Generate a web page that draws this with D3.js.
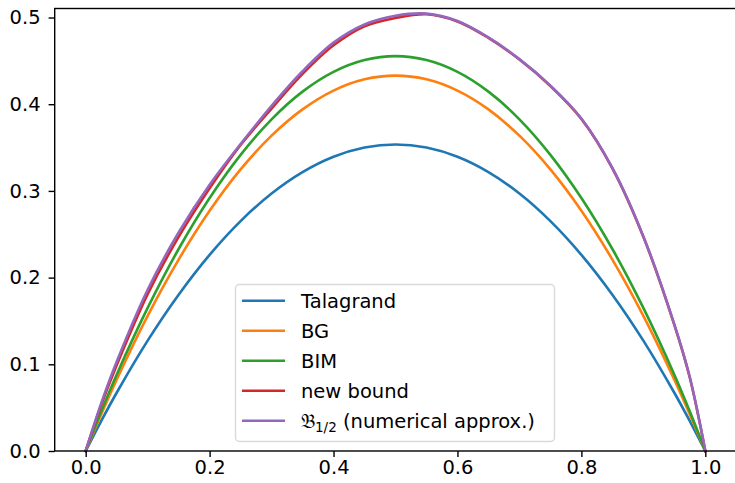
<!DOCTYPE html>
<html>
<head>
<meta charset="utf-8">
<script src="https://cdn.jsdelivr.net/npm/d3@7"></script>
<style>
  html, body { margin: 0; padding: 0; background: #fff; }
  svg { display: block; font-family: "DejaVu Sans", sans-serif; }
</style>
</head>
<body>
<svg id="chart" width="735" height="483"></svg>
<script>
// Sample positions on [0, 1]
const xs = [0, 0.025, 0.05, 0.1, 0.15, 0.2, 0.25, 0.3, 0.35, 0.4, 0.45, 0.5,
            0.55, 0.6, 0.65, 0.7, 0.75, 0.8, 0.85, 0.9, 0.95, 0.975, 1];

// Bound values at each sample position
const talagrand = [0, 0.0345, 0.0672, 0.1273, 0.1803, 0.2263, 0.2652, 0.2970, 0.3217, 0.3394, 0.3500, 0.3536,
                   0.3500, 0.3394, 0.3217, 0.2970, 0.2652, 0.2263, 0.1803, 0.1273, 0.0672, 0.0345, 0];
const bg        = [0, 0.0422, 0.0823, 0.1559, 0.2208, 0.2771, 0.3248, 0.3637, 0.3940, 0.4157, 0.4287, 0.4330,
                   0.4287, 0.4157, 0.3940, 0.3637, 0.3248, 0.2771, 0.2208, 0.1559, 0.0823, 0.0422, 0];
const bim       = [0, 0.0455, 0.0880, 0.1650, 0.2330, 0.2918, 0.3416, 0.3826, 0.4145, 0.4373, 0.4509, 0.4555,
                   0.4509, 0.4373, 0.4145, 0.3826, 0.3416, 0.2918, 0.2330, 0.1650, 0.0880, 0.0455, 0];
const newBound  = [0, 0.053, 0.099, 0.181, 0.247, 0.303, 0.353, 0.395, 0.435, 0.468, 0.490, 0.4995,
                   0.5038, 0.4955, 0.4765, 0.4515, 0.4210, 0.3830, 0.3260, 0.2470, 0.1455, 0.0845, 0];
const bHalf     = [0, 0.055, 0.103, 0.186, 0.252, 0.307, 0.354, 0.398, 0.438, 0.471, 0.492, 0.502,
                   0.5045, 0.496, 0.477, 0.452, 0.4215, 0.3835, 0.3265, 0.2475, 0.146, 0.085, 0];

const xTicks = [0, 0.2, 0.4, 0.6, 0.8, 1.0];
const yTicks = [0, 0.1, 0.2, 0.3, 0.4, 0.5];

const seriesNames  = ["Talagrand", "BG", "BIM", "new bound", "B_half"];
const seriesColors = ["#1f77b4", "#ff7f0e", "#2ca02c", "#d62728", "#9467bd"];
const seriesValues = [talagrand, bg, bim, newBound, bHalf];

const svg = d3.select("#chart");
const plotLeft = 54.7, plotRight = 736.3, plotTop = 8.5, plotBottom = 451;
const fontSize = 19.5;

const x = d3.scaleLinear().domain([-0.05, 1.05]).range([plotLeft, plotRight]);
const y = d3.scaleLinear().domain([0, 0.5104]).range([plotBottom, plotTop]);

const line = d3.line()
  .x((d, i) => x(xs[i]))
  .y(d => y(d))
  .curve(d3.curveCatmullRom.alpha(0.5));

const plot = svg.append("g");
seriesValues.forEach((vals, k) => {
  plot.append("path")
    .datum(vals)
    .attr("d", line)
    .attr("fill", "none")
    .attr("stroke", seriesColors[k])
    .attr("stroke-width", 2.6)
    .attr("stroke-linejoin", "round")
    .attr("stroke-linecap", "square");
});

// Axes
const fmt = d3.format(".1f");
const xAxis = svg.append("g")
  .attr("transform", `translate(0,${plotBottom})`)
  .call(d3.axisBottom(x).tickValues(xTicks).tickFormat(fmt).tickSize(6.1).tickPadding(3.5));
const yAxis = svg.append("g")
  .attr("transform", `translate(${plotLeft},0)`)
  .call(d3.axisLeft(y).tickValues(yTicks).tickFormat(fmt).tickSize(6.1).tickPadding(8));

[xAxis, yAxis].forEach(a => {
  a.select(".domain").remove();
  a.selectAll(".tick line").attr("stroke", "#000").attr("stroke-width", 1.4);
  a.selectAll(".tick text")
    .attr("fill", "#000")
    .attr("font-family", "DejaVu Sans")
    .attr("font-size", fontSize);
});

// Frame
svg.append("rect")
  .attr("x", plotLeft).attr("y", plotTop)
  .attr("width", plotRight - plotLeft).attr("height", plotBottom - plotTop)
  .attr("fill", "none").attr("stroke", "#000").attr("stroke-width", 1.4);

// Legend
const lg = svg.append("g");
lg.append("rect")
  .attr("x", 235.5).attr("y", 284.5).attr("width", 319).attr("height", 157)
  .attr("rx", 4).attr("ry", 4)
  .attr("fill", "#fff").attr("fill-opacity", 0.8)
  .attr("stroke", "#d9d9d9").attr("stroke-width", 1.4);

seriesNames.forEach((name, i) => {
  const cy = 300.7 + i * 30;
  lg.append("line")
    .attr("x1", 242).attr("x2", 285).attr("y1", cy).attr("y2", cy)
    .attr("stroke", seriesColors[i]).attr("stroke-width", 2.6);
  const t = lg.append("text")
    .attr("x", 301).attr("y", cy + 7)
    .attr("font-size", fontSize).attr("fill", "#000");
  if (name === "B_half") {
    t.append("tspan").text("\u{1D505}");
    t.append("tspan").attr("font-size", 13.5).attr("dy", 4.5).text("1/2");
    t.append("tspan").attr("dy", -4.5).text(" (numerical approx.)");
  } else {
    t.text(name);
  }
});
</script>
</body>
</html>
